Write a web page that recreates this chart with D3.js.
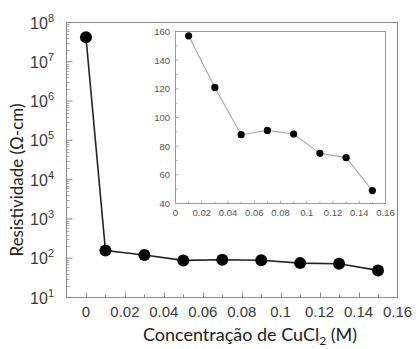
<!DOCTYPE html>
<html>
<head>
<meta charset="utf-8">
<script src="https://cdn.jsdelivr.net/npm/d3@7"></script>
<style>
  body { margin: 0; background: #fff; }
  svg { display: block; }
</style>
</head>
<body>
<svg id="chart" width="416" height="349"></svg>
<script>
// main series
const concentration = [0, 0.01, 0.03, 0.05, 0.07, 0.09, 0.11, 0.13, 0.15];
const resistivity = [4.2e7, 157, 121, 88, 91, 88.5, 75, 72, 49];
const xTicks = [0, 0.02, 0.04, 0.06, 0.08, 0.1, 0.12, 0.14, 0.16];
const yExponents = [1, 2, 3, 4, 5, 6, 7, 8];
// inset series (same points without the 0 M sample)
const insetX = concentration.slice(1);
const insetY = resistivity.slice(1);
const insetYTicks = [40, 60, 80, 100, 120, 140, 160];

const svg = d3.select("#chart");
const frameColor = "#8a8a8a";
const labelColor = "#3a3a3a";

const x = d3.scaleLinear().domain([-0.01, 0.16]).range([66.5, 397.5]);
const y = d3.scaleLog().domain([10, 1e8]).range([297.5, 22.5]);

// frame
svg.append("rect")
  .attr("x", x.range()[0]).attr("y", y.range()[1])
  .attr("width", x.range()[1] - x.range()[0])
  .attr("height", y.range()[0] - y.range()[1])
  .attr("fill", "none").attr("stroke", frameColor).attr("stroke-width", 1);

// x ticks every 0.01, inward
const xMinor = d3.range(0, 0.16, 0.01);
svg.append("g").selectAll("line").data(xMinor).join("line")
  .attr("x1", (d) => Math.round(x(d)) + 0.5).attr("x2", (d) => Math.round(x(d)) + 0.5)
  .attr("y1", y.range()[0]).attr("y2", (d, i) => y.range()[0] - (i % 2 ? 3 : 5))
  .attr("stroke", frameColor);

svg.append("g").selectAll("text").data(xTicks).join("text")
  .attr("x", (d) => x(d)).attr("y", 317)
  .attr("text-anchor", "middle")
  .style("font-family", "Liberation Sans, Arial, sans-serif")
  .style("font-size", "15px").attr("fill", labelColor)
  .text((d) => (d === 0 ? "0" : d3.format("")(d)));

// y ticks, decades + minor 2..9
const yMinor = [];
yExponents.slice(0, -1).forEach((e) => {
  for (let k = 2; k <= 9; k++) yMinor.push(k * Math.pow(10, e));
});
svg.append("g").selectAll("line").data(yMinor).join("line")
  .attr("x1", x.range()[0]).attr("x2", x.range()[0] + 3)
  .attr("y1", (d) => Math.round(y(d)) + 0.5).attr("y2", (d) => Math.round(y(d)) + 0.5)
  .attr("stroke", frameColor).attr("stroke-width", 0.7);
svg.append("g").selectAll("line").data(yExponents).join("line")
  .attr("x1", x.range()[0]).attr("x2", x.range()[0] + 6)
  .attr("y1", (d) => y(Math.pow(10, d))).attr("y2", (d) => y(Math.pow(10, d)))
  .attr("stroke", frameColor);

const yLab = svg.append("g").selectAll("text").data(yExponents).join("text")
  .attr("x", 54).attr("y", (d) => y(Math.pow(10, d)) + 6)
  .attr("text-anchor", "end")
  .style("font-family", "Liberation Sans, Arial, sans-serif")
  .style("font-size", "16px").attr("fill", labelColor);
yLab.append("tspan").text("10");
yLab.append("tspan").attr("dy", -7).style("font-size", "11px").text((d) => d);

// main line + dots
const pts = concentration.map((c, i) => [c, resistivity[i]]);
svg.append("path").datum(pts)
  .attr("d", d3.line().x((d) => x(d[0])).y((d) => y(d[1])))
  .attr("fill", "none").attr("stroke", "#222").attr("stroke-width", 1.6);
svg.append("g").selectAll("circle").data(pts).join("circle")
  .attr("cx", (d) => x(d[0])).attr("cy", (d) => y(d[1]))
  .attr("r", 6).attr("fill", "#000");

// axis titles
svg.append("text")
  .attr("transform", "translate(23,180) rotate(-90)")
  .attr("text-anchor", "middle")
  .style("font-family", "Lato, 'Open Sans', sans-serif")
  .style("font-size", "17px").attr("fill", "#222")
  .text("Resistividade (Ω-cm)");

const xt = svg.append("text")
  .attr("x", 250).attr("y", 341)
  .attr("text-anchor", "middle")
  .style("font-family", "Lato, 'Open Sans', sans-serif")
  .style("font-size", "18px").attr("fill", "#222");
xt.append("tspan").text("Concentração de CuCl");
xt.append("tspan").attr("dy", 4).style("font-size", "12px").text("2");
xt.append("tspan").attr("dy", -4).text(" (M)");

// ---- inset ----
const ix = d3.scaleLinear().domain([0, 0.16]).range([175.5, 385.5]);
const iy = d3.scaleLinear().domain([40, 160]).range([203.5, 31.5]);
const inset = svg.append("g");
inset.append("rect")
  .attr("x", ix.range()[0]).attr("y", iy.range()[1])
  .attr("width", ix.range()[1] - ix.range()[0])
  .attr("height", iy.range()[0] - iy.range()[1])
  .attr("fill", "#fff").attr("stroke", "#999").attr("stroke-width", 1);

inset.append("g").selectAll("line").data(d3.range(0.01, 0.16, 0.01)).join("line")
  .attr("x1", (d) => ix(d)).attr("x2", (d) => ix(d))
  .attr("y1", iy.range()[0]).attr("y2", (d, i) => iy.range()[0] - (i % 2 ? 3 : 2))
  .attr("stroke", "#999").attr("stroke-width", 0.8);
inset.append("g").selectAll("line").data(d3.range(50, 160, 10)).join("line")
  .attr("x1", ix.range()[0]).attr("x2", (d) => ix.range()[0] + (d % 20 ? 2 : 3))
  .attr("y1", (d) => iy(d)).attr("y2", (d) => iy(d))
  .attr("stroke", "#999").attr("stroke-width", 0.8);

inset.append("g").selectAll("text").data(xTicks).join("text")
  .attr("x", (d) => ix(d)).attr("y", 216)
  .attr("text-anchor", "middle")
  .style("font-family", "Liberation Sans, Arial, sans-serif")
  .style("font-size", "9.5px").attr("fill", "#555")
  .text((d) => (d === 0 ? "0" : d3.format("")(d)));
inset.append("g").selectAll("text").data(insetYTicks).join("text")
  .attr("x", 170).attr("y", (d) => iy(d) + 3.5)
  .attr("text-anchor", "end")
  .style("font-family", "Liberation Sans, Arial, sans-serif")
  .style("font-size", "9.5px").attr("fill", "#555")
  .text((d) => d);

const ipts = insetX.map((c, i) => [c, insetY[i]]);
inset.append("path").datum(ipts)
  .attr("d", d3.line().x((d) => ix(d[0])).y((d) => iy(d[1])))
  .attr("fill", "none").attr("stroke", "#a8a8a8").attr("stroke-width", 1.1);
inset.append("g").selectAll("circle").data(ipts).join("circle")
  .attr("cx", (d) => ix(d[0])).attr("cy", (d) => iy(d[1]))
  .attr("r", 3.6).attr("fill", "#000");
</script>
</body>
</html>
